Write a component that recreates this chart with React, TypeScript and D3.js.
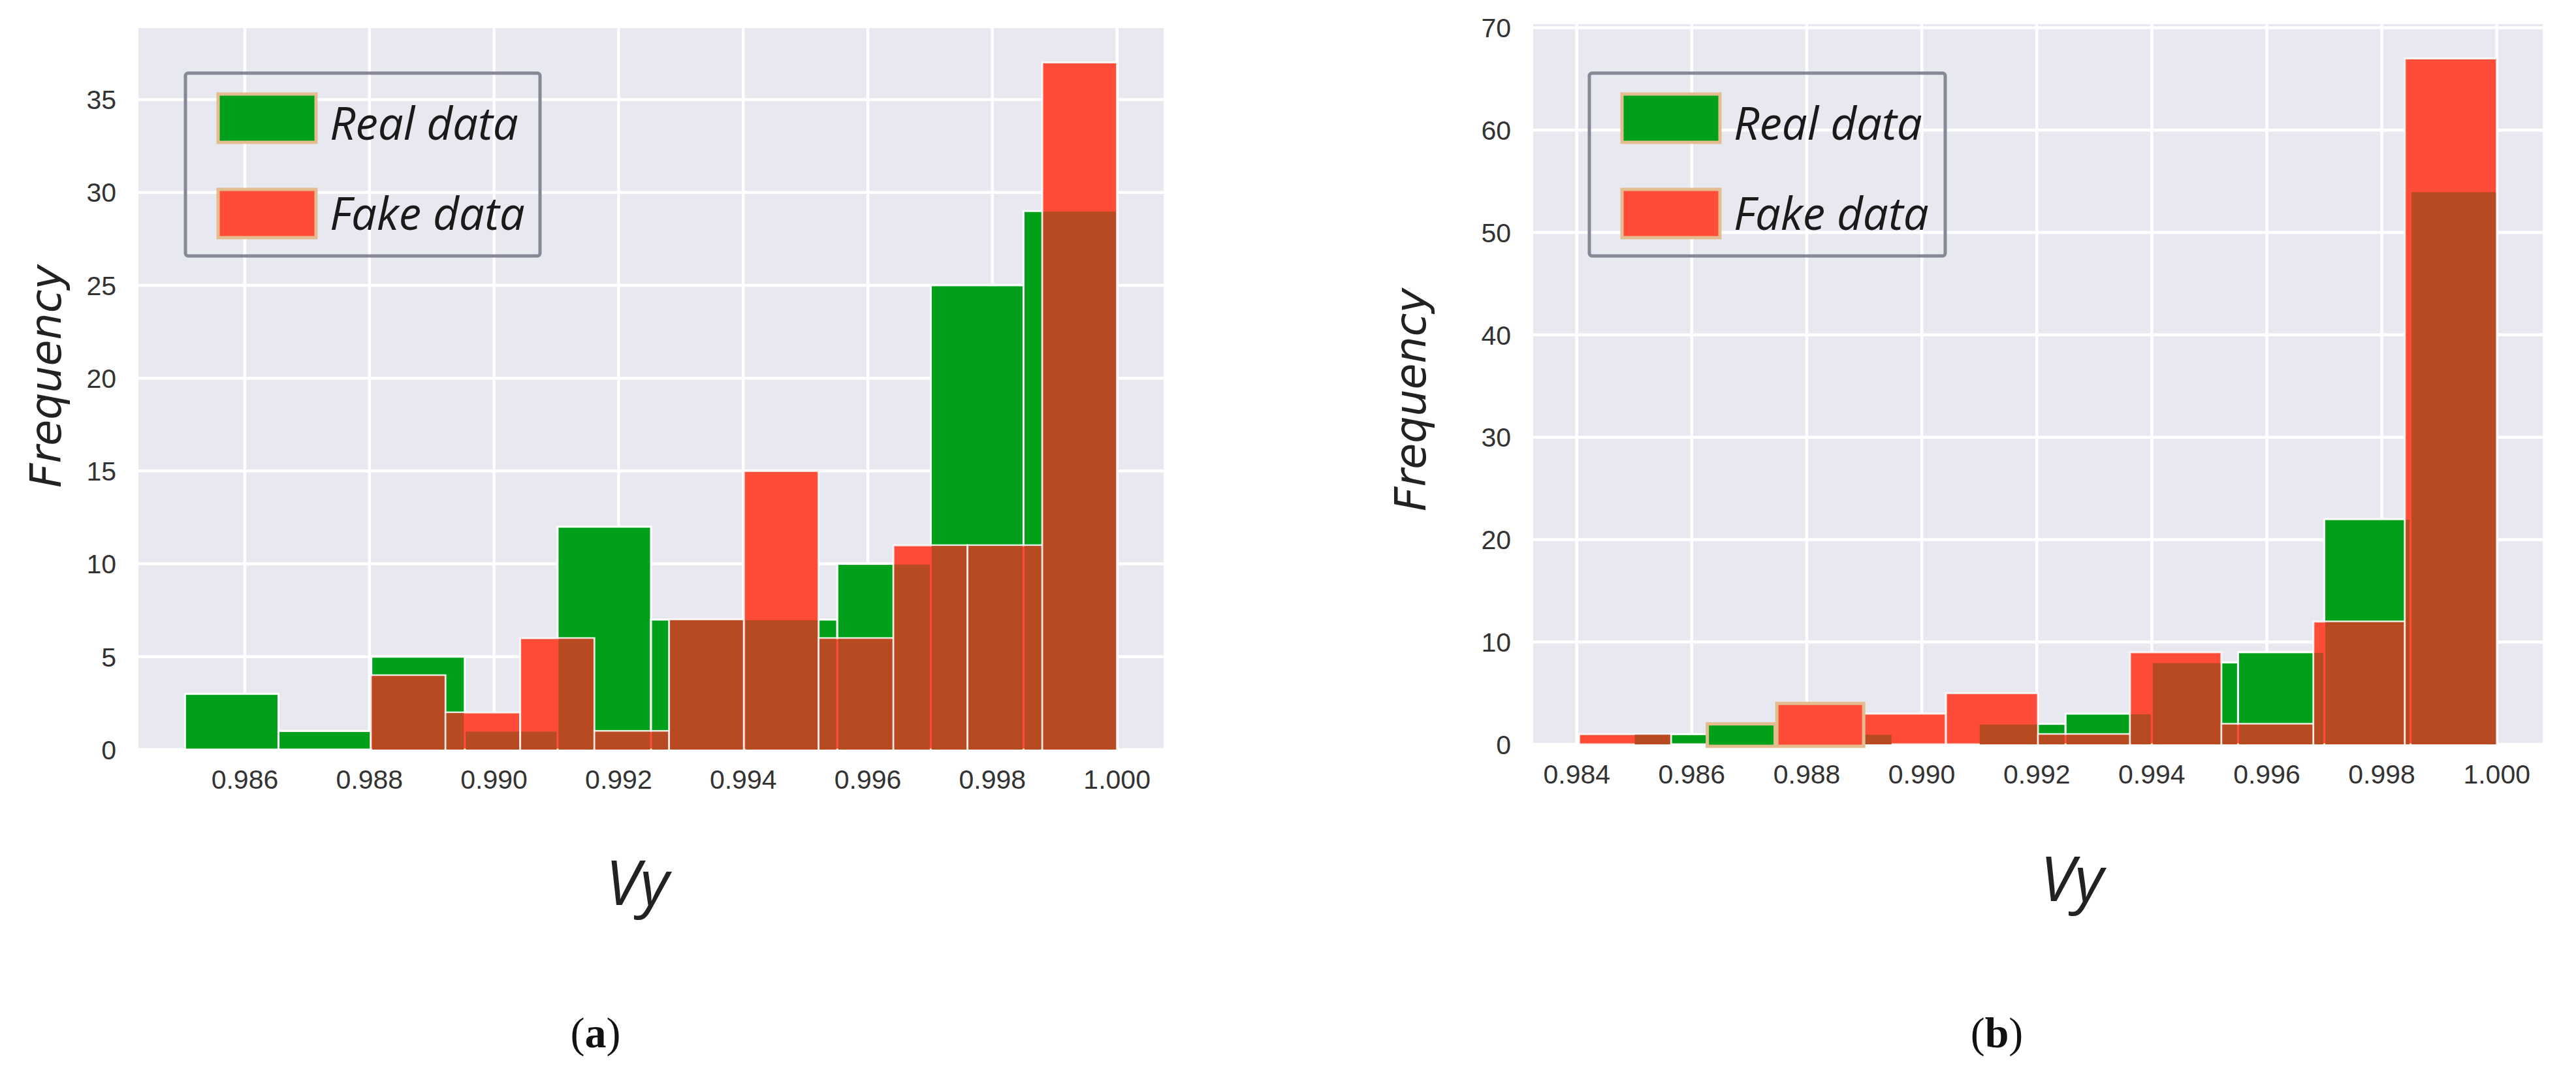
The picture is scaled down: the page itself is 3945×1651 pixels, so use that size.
import React from 'react';
import * as d3 from 'd3';

// ---------- data ----------
const A_GREEN_EDGES = [0.98504, 0.98654, 0.98803, 0.98953, 0.99102, 0.99252, 0.99402, 0.99551, 0.99701, 0.9985, 1.0];
const A_GREEN_COUNTS = [3, 1, 5, 1, 12, 7, 7, 10, 25, 29];
const A_RED_EDGES = [0.98802, 0.98922, 0.99042, 0.99161, 0.99281, 0.99401, 0.99521, 0.99641, 0.9976, 0.9988, 1.0];
const A_RED_COUNTS = [4, 2, 6, 1, 7, 15, 6, 11, 11, 37];

const B_GREEN_EDGES = [0.98499, 0.98649, 0.98799, 0.98949, 0.99099, 0.9925, 0.994, 0.9955, 0.997, 0.9985, 1.0];
const B_GREEN_COUNTS = [1, 0, 1, 0, 2, 3, 8, 9, 22, 54];
const B_RED_EDGES = [0.98404, 0.98564, 0.98723, 0.98883, 0.99042, 0.99202, 0.99362, 0.99521, 0.99681, 0.9984, 1.0];
const B_RED_COUNTS = [1, 0, 0, 3, 5, 1, 9, 2, 12, 67];

// outlined patches that sit on top of panel (b)
const B_PATCH_SERIES = ['Real data', 'Fake data'];
const B_PATCH_X0 = [0.98627, 0.98748];
const B_PATCH_X1 = [0.98745, 0.98899];
const B_PATCH_COUNTS = [2, 4];

const A_X_TICKS = [0.986, 0.988, 0.99, 0.992, 0.994, 0.996, 0.998, 1.0];
const A_Y_TICKS = [0, 5, 10, 15, 20, 25, 30, 35];
const B_X_TICKS = [0.984, 0.986, 0.988, 0.99, 0.992, 0.994, 0.996, 0.998, 1.0];
const B_Y_TICKS = [0, 10, 20, 30, 40, 50, 60, 70];

const SERIES = ['Real data', 'Fake data'];
const X_LABEL = 'Vy';
const Y_LABEL = 'Frequency';
const PANEL_LETTERS = ['a', 'b'];

// ---------- styles ----------
const GREEN = '#00A01A';
const RED = '#FF4C38';
const BROWN = '#B84A22';
const BG = '#E7E8F0';
const TAN = '#E3BD8F';
const FRAME = '#878896';
const TEXT = '#333333';

type Bin = { x0: number; x1: number; n: number };

function bins(edges: number[], counts: number[]): Bin[] {
  return counts.map((n, i) => ({ x0: edges[i], x1: edges[i + 1], n })).filter((b) => b.n > 0);
}

type PanelProps = {
  box: { left: number; right: number; top: number; bottom: number };
  greenEdges: number[];
  greenCounts: number[];
  redEdges: number[];
  redCounts: number[];
  xTicks: number[];
  yTicks: number[];
  legend: { x: number; y: number; w: number; h: number };
  yLabelPos: [number, number];
  xLabelPos: [number, number];
  patches?: { series: string; x0: number; x1: number; n: number }[];
};

function Panel(p: PanelProps) {
  const { box } = p;
  const allEdges = [...p.greenEdges, ...p.redEdges];
  const lo = d3.min(allEdges) as number;
  const hi = d3.max(allEdges) as number;
  const pad = (hi - lo) * 0.05;
  const x = d3.scaleLinear().domain([lo - pad, hi + pad]).range([box.left, box.right]);
  const ymax = (d3.max([...p.greenCounts, ...p.redCounts]) as number) * 1.05;
  const y = d3.scaleLinear().domain([0, ymax]).range([box.bottom, box.top]);

  const g = bins(p.greenEdges, p.greenCounts);
  const r = bins(p.redEdges, p.redCounts);
  const overlaps: Bin[] = [];
  g.forEach((gb) =>
    r.forEach((rb) => {
      const a = Math.max(gb.x0, rb.x0);
      const b = Math.min(gb.x1, rb.x1);
      if (b > a) overlaps.push({ x0: a, x1: b, n: Math.min(gb.n, rb.n) });
    })
  );

  const fmt = d3.format('.3f');
  const lg = p.legend;

  return (
    <g>
      <rect x={box.left} y={box.top} width={box.right - box.left} height={box.bottom - box.top} fill={BG} />
      {p.yTicks.map((t) => (
        <line key={'gy' + t} x1={box.left} x2={box.right} y1={y(t)} y2={y(t)} stroke="#fff" strokeWidth={4.5} />
      ))}
      {p.xTicks.map((t) => (
        <line key={'gx' + t} x1={x(t)} x2={x(t)} y1={box.top} y2={box.bottom} stroke="#fff" strokeWidth={4.5} />
      ))}
      {g.map((b, i) => (
        <rect key={'g' + i} x={x(b.x0)} y={y(b.n)} width={x(b.x1) - x(b.x0)} height={y(0) - y(b.n)}
          fill={GREEN} stroke="#fff" strokeWidth={3} />
      ))}
      {r.map((b, i) => (
        <rect key={'r' + i} x={x(b.x0)} y={y(b.n)} width={x(b.x1) - x(b.x0)} height={y(0) - y(b.n)}
          fill={RED} stroke="#fff" strokeOpacity={0.85} strokeWidth={3} />
      ))}
      {overlaps.map((b, i) => (
        <rect key={'o' + i} x={x(b.x0) + 1.5} y={y(b.n) + 1} width={Math.max(0, x(b.x1) - x(b.x0) - 3)}
          height={y(0) - y(b.n) - 1} fill={BROWN} />
      ))}
      {(p.patches || []).map((b, i) => (
        <rect key={'p' + i} x={x(b.x0)} y={y(b.n)} width={x(b.x1) - x(b.x0)} height={y(0) - y(b.n) + 3}
          fill={b.series === SERIES[0] ? GREEN : RED} stroke={TAN} strokeWidth={5} />
      ))}

      {/* legend */}
      <rect x={lg.x} y={lg.y} width={lg.w} height={lg.h} rx={4} fill="none" stroke={FRAME} strokeWidth={5} />
      {SERIES.map((s, i) => (
        <g key={s}>
          <rect x={lg.x + 50} y={lg.y + 32 + i * 146} width={150} height={74}
            fill={i === 0 ? GREEN : RED} stroke={TAN} strokeWidth={5} />
          <text x={lg.x + 221} y={lg.y + 102 + i * 138} fontFamily="'Open Sans'" fontStyle="italic"
            fontSize={69} fill="#1a1a1a">{s}</text>
        </g>
      ))}

      {/* ticks */}
      {p.xTicks.map((t) => (
        <text key={'tx' + t} x={x(t)} y={box.bottom + 60} textAnchor="middle" fontFamily="'Liberation Sans', Arial"
          fontSize={41} fill={TEXT}>{fmt(t)}</text>
      ))}
      {p.yTicks.map((t) => (
        <text key={'ty' + t} x={box.left - 34} y={y(t)} dy="0.36em" textAnchor="end" fontFamily="'Liberation Sans', Arial"
          fontSize={41} fill={TEXT}>{t}</text>
      ))}

      <text transform={`translate(${p.yLabelPos[0]},${p.yLabelPos[1]}) rotate(-90)`} textAnchor="middle"
        dy="0.35em" fontFamily="'DejaVu Sans'" fontStyle="italic" fontSize={65} fill="#222">{Y_LABEL}</text>
      <text x={p.xLabelPos[0]} y={p.xLabelPos[1]} textAnchor="middle" fontFamily="'Open Sans'" fontStyle="italic"
        fontSize={96} fill="#222">{X_LABEL}</text>
    </g>
  );
}

export default function App() {
  const W = 3945;
  const H = 1651;
  return (
    <svg width={W} height={H} viewBox={`0 0 ${W} ${H}`}
      style={{ position: 'absolute', left: 0, top: 0, background: '#fff' }}>
      <rect width={W} height={H} fill="#fff" />
      <Panel
        box={{ left: 212, right: 1782, top: 43, bottom: 1148 }}
        greenEdges={A_GREEN_EDGES} greenCounts={A_GREEN_COUNTS}
        redEdges={A_RED_EDGES} redCounts={A_RED_COUNTS}
        xTicks={A_X_TICKS} yTicks={A_Y_TICKS}
        legend={{ x: 284, y: 112, w: 543, h: 280 }}
        yLabelPos={[70, 576]} xLabelPos={[976, 1386]}
      />
      <Panel
        box={{ left: 2348, right: 3894, top: 37, bottom: 1140 }}
        greenEdges={B_GREEN_EDGES} greenCounts={B_GREEN_COUNTS}
        redEdges={B_RED_EDGES} redCounts={B_RED_COUNTS}
        xTicks={B_X_TICKS} yTicks={B_Y_TICKS}
        legend={{ x: 2434, y: 112, w: 545, h: 280 }}
        yLabelPos={[2160, 612]} xLabelPos={[3173, 1380]}
        patches={B_PATCH_SERIES.map((s, i) => ({ series: s, x0: B_PATCH_X0[i], x1: B_PATCH_X1[i], n: B_PATCH_COUNTS[i] }))}
      />
      {PANEL_LETTERS.map((l, i) => (
        <text key={l} x={i === 0 ? 912 : 3058} y={1604} textAnchor="middle" fontFamily="'Liberation Serif', 'Times New Roman'"
          fontSize={66} fill="#111">
          (<tspan fontWeight="bold">{l}</tspan>)
        </text>
      ))}
    </svg>
  );
}
